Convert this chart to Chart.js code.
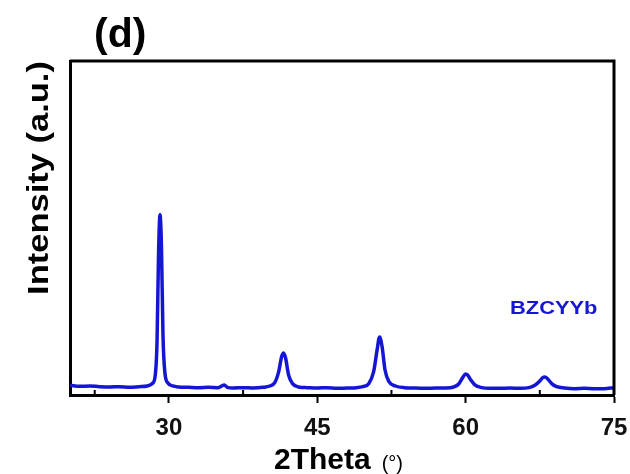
<!DOCTYPE html>
<html>
<head>
<meta charset="utf-8">
<script src="https://cdn.jsdelivr.net/npm/chart.js@4.4.1/dist/chart.umd.min.js"></script>
<style>
  html, body { margin: 0; padding: 0; background: #ffffff; }
  #wrap { position: relative; width: 630px; height: 474px; }
</style>
</head>
<body>
<div id="wrap"><canvas id="c" width="630" height="474"></canvas></div>
<script>
// ---- data ----
const twoTheta = [
  20, 21, 22, 23, 24, 25, 26, 27, 27.8, 28.3, 28.6, 28.8, 28.95, 29.1, 29.25, 29.4, 29.6, 29.9, 30.4,
  31, 32, 33, 34, 35, 35.4, 35.6, 35.9, 36.5, 37.5, 38.5, 39.5, 40.2, 40.7, 41.1, 41.4, 41.6, 41.8,
  42.1, 42.5, 43.1, 44, 45, 46, 47, 48, 49, 49.6, 50.2, 50.7, 51.05, 51.3, 51.55, 51.85, 52.25, 52.9,
  53.8, 55, 56, 57, 58, 58.8, 59.3, 59.7, 60.0, 60.2, 60.5, 60.9, 61.5, 62.5, 63.5, 64.5, 65.5,
  66.4, 67.0, 67.5, 67.8, 68.0, 68.3, 68.7, 69.2, 70, 71, 72, 73, 74, 75
];
const intensity = [
  2.9, 2.6, 2.7, 2.5, 2.4, 2.5, 2.3, 2.5, 2.7, 3.4, 5.5, 16, 42, 54, 44, 18, 6.5, 3.6, 2.7,
  2.4, 2.3, 2.2, 2.3, 2.2, 2.8, 3.0, 2.3, 2.1, 2.2, 2.1, 2.3, 2.7, 3.7, 7.0, 11.5, 12.6, 11,
  6.0, 3.4, 2.4, 2.2, 2.1, 2.2, 2.0, 2.1, 2.2, 2.5, 3.4, 7.0, 13.5, 17.4, 14.5, 7.5, 4.0, 2.7,
  2.2, 2.1, 2.0, 2.1, 2.1, 2.4, 3.3, 5.2, 6.3, 6.0, 4.6, 3.1, 2.3, 2.0, 2.0, 2.1, 2.0,
  2.2, 2.9, 4.2, 5.2, 5.4, 4.8, 3.4, 2.5, 2.1, 1.9, 2.0, 1.9, 1.9, 2.2
];
const xTickValues = [30, 45, 60, 75];
const xMinorTickValues = [22.5, 37.5, 52.5, 67.5];
const panelLabel = '(d)';
const yTitle = 'Intensity (a.u.)';
const xTitleMain = '2Theta';
const xTitleUnit = '(°)';
const seriesLabel = 'BZCYYb';

const BLUE = '#1515d4';
const FONT = '"Liberation Sans", Arial, sans-serif';

const decorPlugin = {
  id: 'decor',
  afterDraw(chart) {
    const { ctx, chartArea: a, scales } = chart;
    ctx.save();
    // frame (top, right)
    ctx.strokeStyle = '#000';
    ctx.lineWidth = 3;
    ctx.beginPath();
    ctx.moveTo(a.left, a.top);
    ctx.lineTo(a.right, a.top);
    ctx.lineTo(a.right, a.bottom);
    ctx.stroke();
    // minor inward ticks on bottom axis
    ctx.lineWidth = 2;
    xMinorTickValues.forEach(v => {
      const px = scales.x.getPixelForValue(v);
      ctx.beginPath();
      ctx.moveTo(px, a.bottom);
      ctx.lineTo(px, a.bottom - 5);
      ctx.stroke();
    });
    // panel label
    ctx.fillStyle = '#000';
    ctx.font = 'bold 41px ' + FONT;
    ctx.textAlign = 'left';
    ctx.textBaseline = 'alphabetic';
    ctx.fillText(panelLabel, 94, 47);
    // y title
    ctx.save();
    ctx.translate(48, 178);
    ctx.rotate(-Math.PI / 2);
    ctx.scale(1.15, 1);
    ctx.font = 'bold 30px ' + FONT;
    ctx.textAlign = 'center';
    ctx.textBaseline = 'alphabetic';
    ctx.fillText(yTitle, 0, 0);
    ctx.restore();
    // x title
    const cx = (a.left + a.right) / 2 - 4;
    ctx.font = 'bold 30px ' + FONT;
    const w1 = ctx.measureText(xTitleMain).width;
    ctx.font = '20px ' + FONT;
    const w2 = ctx.measureText(xTitleUnit).width;
    const total = w1 + 10 + w2;
    let x0 = cx - total / 2;
    ctx.textAlign = 'left';
    ctx.font = 'bold 30px ' + FONT;
    ctx.fillText(xTitleMain, x0, 469);
    ctx.font = '20px ' + FONT;
    ctx.fillText(xTitleUnit, x0 + w1 + 11, 470);
    // series label
    ctx.save();
    ctx.translate(510, 314);
    ctx.scale(1.15, 1);
    ctx.fillStyle = BLUE;
    ctx.font = 'bold 19px ' + FONT;
    ctx.fillText(seriesLabel, 0, 0);
    ctx.restore();
    ctx.restore();
  }
};

new Chart(document.getElementById('c'), {
  type: 'line',
  data: {
    datasets: [{
      label: seriesLabel,
      data: twoTheta.map((t, i) => ({ x: t, y: intensity[i] })),
      borderColor: BLUE,
      borderWidth: 3.5,
      pointRadius: 0,
      fill: false,
      cubicInterpolationMode: 'monotone'
    }]
  },
  options: {
    responsive: false,
    animation: false,
    layout: { padding: { top: 61, right: 16, left: 0, bottom: 0 } },
    plugins: { legend: { display: false }, tooltip: { enabled: false } },
    scales: {
      x: {
        type: 'linear',
        min: 20, max: 75,
        afterBuildTicks: s => { s.ticks = xTickValues.map(v => ({ value: v })); },
        afterFit: s => { s.height = 79; s.paddingLeft = 0; s.paddingRight = 0; },
        border: { display: true, color: '#000', width: 3 },
        grid: { display: true, drawOnChartArea: false, drawTicks: true, tickLength: 8, tickWidth: 2, tickColor: '#000' },
        ticks: { color: '#111', font: { family: FONT, size: 24, weight: 'bold' }, padding: 11, maxRotation: 0 }
      },
      y: {
        min: 0, max: 100,
        afterFit: s => { s.width = 70; },
        border: { display: true, color: '#000', width: 3 },
        grid: { display: false, drawTicks: false },
        ticks: { display: false }
      }
    }
  },
  plugins: [decorPlugin]
});
</script>
</body>
</html>
